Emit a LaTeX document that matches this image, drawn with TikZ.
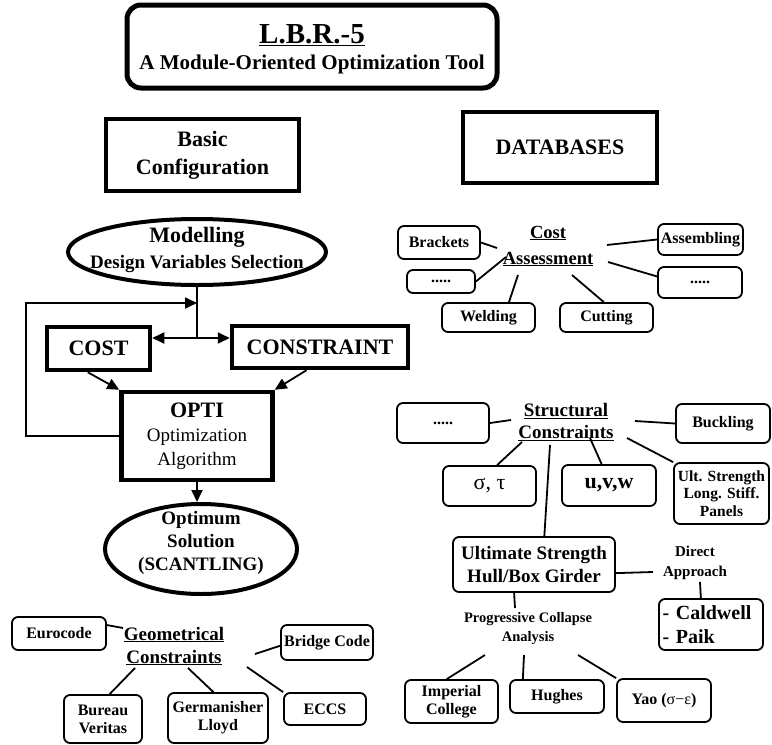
\documentclass[tikz,border=0pt]{standalone}
\usepackage{fontspec}
\setmainfont{Liberation Serif}
\usetikzlibrary{arrows.meta,shapes.geometric,calc}
\newcommand{\fs}[2]{\fontsize{#1}{#2}\selectfont}
\begin{document}
\begin{tikzpicture}[x=1pt,y=-1pt,
  font=\bfseries,
  thickbox/.style={draw, line width=4.5pt, inner sep=0pt, align=center},
  rbox/.style={draw, line width=1.8pt, rounded corners=6pt, inner sep=0pt, align=center, font=\fs{16}{18}\bfseries},
  ebox/.style={ellipse, draw, line width=4pt, inner sep=0pt},
  txt/.style={inner sep=1pt, align=center},
  link/.style={line width=1.8pt},
  arr/.style={line width=1.8pt, -{Triangle[length=12pt,width=11pt]}},
]
\useasboundingbox (0,0) rectangle (772,745);

% title
\node[draw, line width=5pt, rounded corners=14pt, minimum width=370, minimum height=83, inner sep=0] (title) at (312,46.5) {};
\node[txt, anchor=base, font=\fs{29}{32}\bfseries] (t1) at (312,43) {\underline{L.B.R.-5}};
\node[txt, anchor=base, font=\fs{21}{24}\bfseries] (t2) at (312,69) {A Module-Oriented Optimization Tool};

% headers
\node[thickbox, line width=3.5pt, minimum width=193, minimum height=72, font=\fs{22}{28}\bfseries] (basic) at (202.5,155) {Basic\\Configuration};
\node[thickbox, line width=3.5pt, minimum width=194, minimum height=71, font=\fs{22}{26}\bfseries] (db) at (560,147.5) {DATABASES};

% left flow
\node[ebox, minimum width=258, minimum height=66] (model) at (197,252) {};
\node[txt, font=\fs{19}{26}\bfseries] (modeltxt) at (197,250) {{\fs{22}{26}Modelling}\\Design Variables Selection};

\node[thickbox, minimum width=103, minimum height=43, font=\fs{22}{26}\bfseries] (cost) at (98.5,348.5) {COST};
\node[thickbox, minimum width=176, minimum height=42, font=\fs{22}{26}\bfseries] (constraint) at (320,347) {CONSTRAINT};
\node[thickbox, minimum width=151, minimum height=88, font=\fs{19}{24}\mdseries] (opti) at (197,436) {{\fs{22}{25}\bfseries OPTI}\\Optimization\\Algorithm};

\node[ebox, minimum width=192, minimum height=90] (optimum) at (201,549) {};
\node[txt, font=\fs{19}{23}\bfseries] (optimumtxt) at (201,543) {Optimum\\Solution\\(SCANTLING)};

\coordinate (j) at (model.south |- 0,338);
\coordinate (fb) at (model.south |- 0,303);
\coordinate (loop) at (26,303);
\draw[link] (model.south) -- (j);
\draw[arr] (j) -- (j -| cost.east);
\draw[arr] (j) -- (j -| constraint.west);
\draw[arr] (opti.west) -| (loop) -- (fb);
\draw[arr] ($(cost.south)!0.2!(cost.south west)$) -- (opti.north west);
\draw[arr] ($(constraint.south)!0.15!(constraint.south west)$) -- (opti.north east);
\draw[arr] (opti.south) -- (opti.south |- optimum.north);

% geometrical constraints
\node[txt, font=\fs{19}{23}\bfseries] (geo) at (174,646) {\underline{Geometrical}\\\underline{Constraints}};
\node[rbox, minimum width=94, minimum height=33] (euro) at (59,633.5) {Eurocode};
\node[rbox, minimum width=92, minimum height=35] (bridge) at (327,642.5) {Bridge Code};
\node[rbox, minimum width=82, minimum height=32] (eccs) at (325,709) {ECCS};
\node[rbox, minimum width=78, minimum height=48] (bureau) at (103,719) {Bureau\\Veritas};
\node[rbox, minimum width=100, minimum height=50] (germ) at (218,718) {Germanisher\\Lloyd};
\coordinate (g1) at (123,628);
\coordinate (g2) at (255,654);
\coordinate (g3) at (247,667);
\coordinate (g4) at (135,668);
\coordinate (g5) at (188,668);
\draw[link] (euro.10) -- (g1);
\draw[link] (bridge.184) -- (g2);
\draw[link] (eccs.north west) -- (g3);
\draw[link] (bureau.75) -- (g4);
\draw[link] (germ.100) -- (g5);

% cost assessment
\node[txt, font=\fs{18.5}{26}\bfseries] (ca) at (548,246) {\underline{Cost}\\\underline{Assessment}};
\node[rbox, minimum width=82, minimum height=33] (brackets) at (439,242.5) {Brackets};
\node[rbox, minimum width=85, minimum height=31] (assembling) at (700.5,239.5) {Assembling};
\node[rbox, minimum width=68, minimum height=23] (dotsl) at (441,281.5) {.....};
\node[rbox, minimum width=84, minimum height=31] (dotsr) at (700,282.5) {.....};
\node[rbox, minimum width=93, minimum height=29] (welding) at (488.5,317.5) {Welding};
\node[rbox, minimum width=93, minimum height=29] (cutting) at (606.5,317.5) {Cutting};
\coordinate (c1) at (497,248);
\coordinate (c2) at (607,245);
\coordinate (c3) at (506,257);
\coordinate (c4) at (608,262);
\coordinate (c5) at (518,275);
\coordinate (c6) at (572,275);
\draw[link] (brackets.east) -- (c1);
\draw[link] (assembling.west) -- (c2);
\draw[link] (dotsl.east) -- (c3);
\draw[link] (dotsr.172) -- (c4);
\draw[link] (welding.37) -- (c5);
\draw[link] (cutting.100) -- (c6);

% structural constraints
\node[txt, font=\fs{19}{22}\bfseries] (sc) at (566,422) {\underline{Structural}\\\underline{Constraints}};
\node[rbox, minimum width=92, minimum height=40] (dotss) at (443,423) {.....};
\node[rbox, minimum width=94, minimum height=39] (buckling) at (723,423.5) {Buckling};
\node[rbox, minimum width=93, minimum height=40, font=\fs{22}{24}\mdseries] (sigma) at (489.5,486) {σ, τ};
\node[rbox, minimum width=94, minimum height=41, font=\fs{22}{24}\bfseries] (uvw) at (609,485.5) {u,v,w};
\node[rbox, minimum width=95, minimum height=61, font=\fs{15.5}{17.5}\bfseries] (ult) at (721.5,493.5) {Ult. Strength\\Long. Stiff.\\Panels};
\node[rbox, minimum width=162, minimum height=55, font=\fs{19}{23}\bfseries] (us) at (534,564.5) {Ultimate Strength\\Hull/Box Girder};
\coordinate (s1) at (511,420);
\coordinate (s2) at (635,421);
\coordinate (s3) at (522,442);
\coordinate (s4) at (590,438);
\coordinate (s5) at (627,438);
\coordinate (s6) at (550,445);
\draw[link] (dotss.east) -- (s1);
\draw[link] (buckling.west) -- (s2);
\draw[link] (sigma.70) -- (s3);
\draw[link] (uvw.109) -- (s4);
\draw[link] (ult.north west) -- (s5);
\draw[link] (us.70) -- (s6);

% ultimate strength branches
\node[txt, font=\fs{15}{20}\bfseries] (da) at (695,563) {Direct\\Approach};
\node[rbox, minimum width=104, minimum height=51, text width=97pt, inner xsep=3.5pt, align=left, font=\fs{20}{24}\bfseries] (caldwell) at (711,624.5) {- Caldwell\\- Paik};
\node[txt, font=\fs{14.5}{19}\bfseries] (pca) at (528,629) {Progressive Collapse\\Analysis};
\node[rbox, minimum width=93, minimum height=43] (imperial) at (451.5,701.5) {Imperial\\College};
\node[rbox, minimum width=94, minimum height=33] (hughes) at (557,696.5) {Hughes};
\node[rbox, minimum width=94, minimum height=43] (yao) at (664,700.5) {Yao (\textmd{σ−ε})};
\coordinate (d1) at (653,572);
\coordinate (d2) at (700,582);
\coordinate (p0) at (515,608);
\coordinate (p1) at (485,655);
\coordinate (p2) at (524,655);
\coordinate (p3) at (578,655);
\draw[link] (us.-6) -- (d1);
\draw[link] (caldwell.111) -- (d2);
\draw[link] (us.-125) -- (p0);
\draw[link] (imperial.102) -- (p1);
\draw[link] (hughes.153) -- (p2);
\draw[link] (yao.north west) -- (p3);
\end{tikzpicture}
\end{document}
